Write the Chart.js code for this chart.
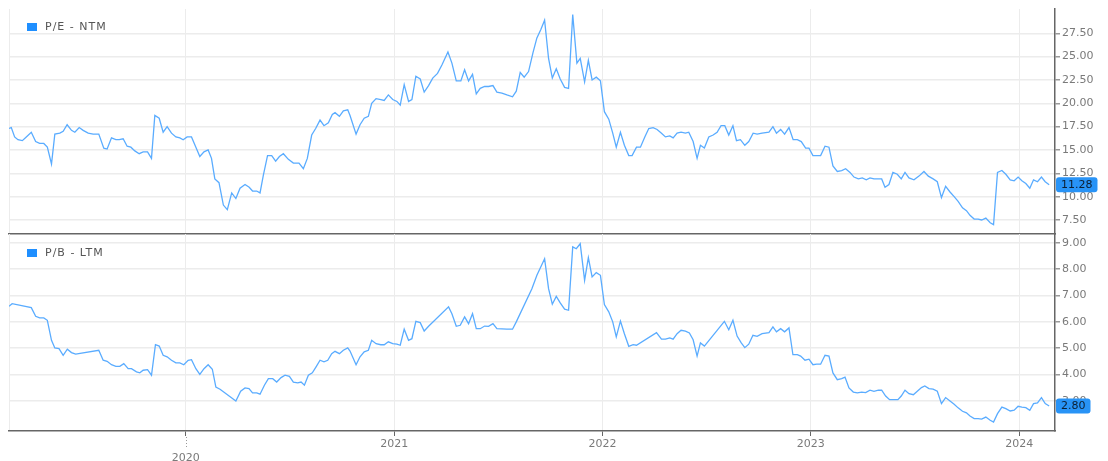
<!DOCTYPE html>
<html>
<head>
<meta charset="utf-8">
<script src="https://cdn.jsdelivr.net/npm/chart.js@4.4.1/dist/chart.umd.min.js"></script>
<style>
  html, body { margin: 0; padding: 0; background: #fff; }
  #wrap { position: relative; width: 1108px; height: 461px; overflow: hidden; }
  #wrap canvas { position: absolute; left: 0; }
  .legend { position: absolute; left: 27px; font: 11px 'DejaVu Sans', sans-serif; color: #555; letter-spacing: 1px; display: flex; align-items: center; line-height: 13px; }
  .legend i { display: inline-block; width: 10px; height: 8px; background: #1f8fff; margin-right: 8px; }
</style>
</head>
<body>
<div id="wrap">
  <canvas id="pe" width="1108" height="235" style="top:0;width:1108px;height:235px"></canvas>
  <canvas id="pb" width="1108" height="227" style="top:234px;width:1108px;height:227px"></canvas>
  <div class="legend" style="top:20px"><i></i>P/E - NTM</div>
  <div class="legend" style="top:246px"><i></i>P/B - LTM</div>
</div>
<script>
// dates as fractional years
const peDates = [
  2019.151, 2019.162, 2019.178, 2019.194, 2019.215, 2019.234, 2019.258, 2019.279, 2019.298, 2019.318,
  2019.335, 2019.355, 2019.371, 2019.395, 2019.411, 2019.430, 2019.451, 2019.467, 2019.488, 2019.507,
  2019.531, 2019.555, 2019.582, 2019.606, 2019.622, 2019.643, 2019.664, 2019.680, 2019.699, 2019.718,
  2019.736, 2019.755, 2019.776, 2019.795, 2019.816, 2019.835, 2019.851, 2019.872, 2019.891, 2019.910,
  2019.931, 2019.952, 2019.971, 2019.987, 2020.006, 2020.027, 2020.048, 2020.067, 2020.087, 2020.107,
  2020.123, 2020.139, 2020.159, 2020.180, 2020.199, 2020.220, 2020.240, 2020.260, 2020.284, 2020.304,
  2020.320, 2020.340, 2020.356, 2020.372, 2020.392, 2020.412, 2020.431, 2020.449, 2020.468, 2020.492,
  2020.516, 2020.543, 2020.564, 2020.583, 2020.604, 2020.623, 2020.644, 2020.663, 2020.684, 2020.703,
  2020.716, 2020.737, 2020.756, 2020.777,
  2020.788, 2020.817, 2020.836, 2020.856, 2020.876, 2020.892, 2020.913, 2020.936, 2020.952, 2020.972,
  2020.993, 2021.013, 2021.029, 2021.048, 2021.069, 2021.085, 2021.104, 2021.125, 2021.144, 2021.165,
  2021.185, 2021.208, 2021.229, 2021.258, 2021.277, 2021.298, 2021.320, 2021.338, 2021.357, 2021.376,
  2021.394, 2021.413, 2021.434, 2021.453, 2021.474, 2021.493, 2021.517, 2021.541, 2021.568, 2021.586,
  2021.605, 2021.624, 2021.645, 2021.666, 2021.685, 2021.704, 2021.722, 2021.741, 2021.759, 2021.778,
  2021.797, 2021.818, 2021.837, 2021.857, 2021.877, 2021.893, 2021.914, 2021.932, 2021.950, 2021.970,
  2021.990, 2022.009, 2022.030, 2022.049, 2022.066, 2022.086, 2022.105, 2022.126, 2022.142, 2022.163,
  2022.182, 2022.203, 2022.222, 2022.243, 2022.262, 2022.283, 2022.302, 2022.323, 2022.339, 2022.358,
  2022.377, 2022.398, 2022.414, 2022.435, 2022.454,
  2022.470, 2022.489, 2022.510, 2022.531, 2022.550, 2022.569, 2022.587, 2022.606, 2022.626, 2022.643,
  2022.662, 2022.683, 2022.702, 2022.723, 2022.742, 2022.766, 2022.799, 2022.818, 2022.835, 2022.855,
  2022.874, 2022.895, 2022.915, 2022.935, 2022.954, 2022.975, 2022.991, 2023.010, 2023.028, 2023.047,
  2023.068, 2023.087, 2023.106, 2023.127, 2023.148, 2023.167, 2023.188, 2023.207, 2023.228, 2023.247,
  2023.266, 2023.284, 2023.303, 2023.324, 2023.340, 2023.356, 2023.375, 2023.394, 2023.415, 2023.434,
  2023.452, 2023.471, 2023.495, 2023.519, 2023.543, 2023.564, 2023.587, 2023.607, 2023.627, 2023.647,
  2023.668, 2023.688, 2023.707, 2023.728, 2023.747, 2023.764, 2023.784, 2023.803, 2023.820, 2023.840,
  2023.861, 2023.877, 2023.896, 2023.917, 2023.936, 2023.957, 2023.976, 2023.995, 2024.013, 2024.032,
  2024.051, 2024.069, 2024.088, 2024.107, 2024.125, 2024.144
];
const peValues = [
  17.3, 17.4, 16.4, 16.1, 16.0, 16.4, 16.9, 15.9, 15.7, 15.7,
  15.3, 13.5, 16.7, 16.8, 17.0, 17.7, 17.1, 16.9, 17.4, 17.1,
  16.8, 16.7, 16.7, 15.2, 15.1, 16.3, 16.1, 16.1, 16.2, 15.4,
  15.3, 14.9, 14.6, 14.8, 14.8, 14.1, 18.7, 18.4, 16.9, 17.5,
  16.8, 16.4, 16.3, 16.1, 16.4, 16.4, 15.3, 14.3, 14.8, 15.0,
  14.1, 11.9, 11.5, 9.1, 8.6, 10.4, 9.8, 10.9, 11.3, 11.0,
  10.6, 10.6, 10.4, 12.3, 14.4, 14.4, 13.8, 14.3, 14.6, 14.0,
  13.6, 13.6, 13.0, 14.1, 16.6, 17.3, 18.2, 17.6, 17.9, 18.8,
  19.0, 18.6, 19.2, 19.3,
  18.7, 16.7, 17.7, 18.4, 18.6, 20.0, 20.5, 20.4, 20.3, 20.9,
  20.4, 20.2, 19.8, 22.0, 20.2, 20.4, 22.9, 22.6, 21.2, 21.9,
  22.7, 23.2, 24.1, 25.5, 24.3, 22.4, 22.4, 23.6, 22.4, 23.1,
  21.0, 21.6, 21.8, 21.8, 21.9, 21.2, 21.1, 20.9, 20.7, 21.3,
  23.3, 22.8, 23.4, 25.4, 27.0, 27.9, 28.9, 24.8, 22.7, 23.7,
  22.6, 21.7, 21.6, 29.5, 24.3, 24.8, 22.3, 24.6, 22.5, 22.8,
  22.4, 19.1, 18.3, 16.8, 15.3, 16.9, 15.5, 14.4, 14.4, 15.3,
  15.3, 16.4, 17.3, 17.4, 17.2, 16.8, 16.4, 16.5, 16.3, 16.8,
  16.9, 16.8, 16.9, 15.9, 14.1,
  15.5, 15.2, 16.4, 16.6, 16.9, 17.6, 17.6, 16.6, 17.6, 16.0,
  16.1, 15.5, 15.9, 16.8, 16.7, 16.8, 16.9, 17.5, 16.8, 17.2,
  16.7, 17.4, 16.1, 16.1, 15.9, 15.2, 15.2, 14.4, 14.4, 14.4,
  15.4, 15.3, 13.3, 12.7, 12.8, 13.0, 12.6, 12.1, 11.9, 12.0,
  11.8, 12.0, 11.9, 11.9, 11.9, 11.0, 11.3, 12.6, 12.4, 11.9,
  12.6, 12.0, 11.8, 12.2, 12.7, 12.2, 11.9, 11.6, 9.9, 11.1,
  10.5, 10.0, 9.5, 8.8, 8.5, 8.0, 7.6, 7.6, 7.5, 7.7,
  7.2, 7.0, 12.6, 12.8, 12.4, 11.8, 11.7, 12.1, 11.7, 11.4,
  10.9, 11.8, 11.6, 12.1, 11.6, 11.28
];

const pbDates = [
  2019.151, 2019.166, 2019.258, 2019.279, 2019.298, 2019.318, 2019.335, 2019.355, 2019.371, 2019.391,
  2019.411, 2019.431, 2019.451, 2019.471, 2019.582, 2019.603, 2019.622, 2019.643, 2019.664, 2019.683,
  2019.702, 2019.723, 2019.739, 2019.763, 2019.779, 2019.795, 2019.816, 2019.835, 2019.854, 2019.872,
  2019.891, 2019.910, 2019.931, 2019.952, 2019.971, 2019.990, 2020.011, 2020.027, 2020.048, 2020.067,
  2020.087, 2020.107, 2020.127, 2020.144, 2020.164, 2020.240, 2020.263, 2020.284, 2020.303, 2020.320,
  2020.340, 2020.356, 2020.377, 2020.396, 2020.417, 2020.436, 2020.457, 2020.476, 2020.497, 2020.516,
  2020.537, 2020.553, 2020.569, 2020.588, 2020.607, 2020.625, 2020.644, 2020.663, 2020.681, 2020.700,
  2020.716, 2020.737, 2020.756, 2020.777,
  2020.788, 2020.817, 2020.836, 2020.856, 2020.876, 2020.892, 2020.913, 2020.936, 2020.952, 2020.972,
  2020.993, 2021.013, 2021.029, 2021.048, 2021.069, 2021.085, 2021.104, 2021.125, 2021.144, 2021.165,
  2021.261, 2021.277, 2021.298, 2021.317, 2021.338, 2021.357, 2021.376, 2021.394, 2021.413, 2021.434,
  2021.453, 2021.474, 2021.493, 2021.517, 2021.541, 2021.568, 2021.586, 2021.661, 2021.685, 2021.722,
  2021.741, 2021.759, 2021.778, 2021.797, 2021.818, 2021.837, 2021.857, 2021.874, 2021.893, 2021.914,
  2021.932, 2021.950, 2021.970, 2021.990, 2022.009, 2022.030, 2022.049, 2022.066, 2022.086, 2022.105,
  2022.126, 2022.147, 2022.163, 2022.259, 2022.283, 2022.302, 2022.323, 2022.339, 2022.358, 2022.377,
  2022.398, 2022.417, 2022.435, 2022.454,
  2022.470, 2022.489, 2022.585, 2022.606, 2022.626, 2022.646, 2022.666, 2022.683, 2022.702, 2022.722,
  2022.742, 2022.766, 2022.799, 2022.818, 2022.835, 2022.855, 2022.874, 2022.895, 2022.914, 2022.935,
  2022.951, 2022.972, 2022.991, 2023.010, 2023.028, 2023.047, 2023.068, 2023.087, 2023.106, 2023.127,
  2023.148, 2023.164, 2023.183, 2023.204, 2023.223, 2023.244, 2023.263, 2023.284, 2023.303, 2023.324,
  2023.340, 2023.359, 2023.378, 2023.399, 2023.418, 2023.434, 2023.452, 2023.471, 2023.492, 2023.511,
  2023.531, 2023.547, 2023.567, 2023.587, 2023.607, 2023.627, 2023.647, 2023.668, 2023.688, 2023.707,
  2023.728, 2023.747, 2023.764, 2023.784, 2023.803, 2023.820, 2023.840, 2023.861, 2023.877, 2023.896,
  2023.917, 2023.936, 2023.957, 2023.976, 2023.995, 2024.013, 2024.032, 2024.051, 2024.069, 2024.088,
  2024.107, 2024.125, 2024.144
];
const pbValues = [
  6.59, 6.69, 6.54, 6.21, 6.15, 6.15, 6.06, 5.30, 5.01, 4.98,
  4.73, 4.96, 4.83, 4.77, 4.92, 4.54, 4.50, 4.37, 4.31, 4.31,
  4.41, 4.22, 4.22, 4.10, 4.06, 4.16, 4.18, 3.97, 5.13, 5.08,
  4.73, 4.67, 4.54, 4.44, 4.44, 4.37, 4.54, 4.56, 4.22, 4.00,
  4.22, 4.37, 4.20, 3.52, 3.44, 2.99, 3.36, 3.49, 3.46, 3.30,
  3.30, 3.25, 3.59, 3.84, 3.84, 3.71, 3.88, 3.97, 3.93, 3.71,
  3.68, 3.71, 3.59, 3.97, 4.06, 4.29, 4.54, 4.48, 4.54, 4.79,
  4.88, 4.79, 4.92, 5.01,
  4.89, 4.37, 4.67, 4.86, 4.92, 5.30, 5.17, 5.13, 5.13, 5.24,
  5.17, 5.15, 5.11, 5.72, 5.30, 5.36, 6.02, 5.97, 5.65, 5.83,
  6.57, 6.31, 5.83, 5.87, 6.19, 5.93, 6.31, 5.74, 5.74, 5.84,
  5.83, 5.93, 5.74, 5.73, 5.72, 5.72, 6.00, 7.26, 7.77, 8.40,
  7.26, 6.67, 6.97, 6.72, 6.48, 6.44, 8.85, 8.78, 8.97, 7.58,
  8.44, 7.71, 7.87, 7.77, 6.66, 6.38, 6.00, 5.43, 6.03, 5.55,
  5.07, 5.13, 5.11, 5.59, 5.34, 5.34, 5.39, 5.34, 5.55, 5.68,
  5.65, 5.58, 5.32, 4.70,
  5.20, 5.08, 6.02, 5.70, 6.06, 5.46, 5.20, 5.02, 5.15, 5.49,
  5.45, 5.55, 5.59, 5.81, 5.62, 5.74, 5.62, 5.77, 4.75, 4.75,
  4.70, 4.54, 4.58, 4.37, 4.39, 4.39, 4.73, 4.70, 4.06, 3.80,
  3.84, 3.90, 3.49, 3.33, 3.30, 3.33, 3.31, 3.40, 3.36, 3.40,
  3.40, 3.18, 3.04, 3.04, 3.04, 3.18, 3.40, 3.27, 3.23, 3.36,
  3.50, 3.56, 3.46, 3.44, 3.36, 2.89, 3.12, 2.99, 2.87, 2.73,
  2.60, 2.54, 2.42, 2.32, 2.32, 2.30, 2.38, 2.26, 2.19, 2.51,
  2.76, 2.70, 2.61, 2.64, 2.79, 2.76, 2.74, 2.64, 2.89, 2.92,
  3.12, 2.89, 2.80
];

const yearTicks = [2020, 2021, 2022, 2023, 2024];
const peTicks = [7.5, 10, 12.5, 15, 17.5, 20, 22.5, 25, 27.5];
const pbTicks = [3, 4, 5, 6, 7, 8, 9];

const X_MIN = 2019.151, X_MAX = 2024.172;
const FONT = "'DejaVu Sans', sans-serif";
const LINE_COLOR = '#5aacff';
const GRID = '#ececec';
const AXIS = '#666';
const TICK_TEXT = '#7a7a7a';

Chart.defaults.font.family = FONT;
Chart.defaults.font.size = 11;

const lastValueTag = {
  id: 'lastValueTag',
  afterDraw(chart) {
    const pts = chart.data.datasets[0].data;
    const last = pts[pts.length - 1];
    const y = chart.scales.y.getPixelForValue(last.y);
    const ctx = chart.ctx;
    const text = last.y.toFixed(2);
    ctx.save();
    ctx.font = '11px ' + FONT;
    const w = ctx.measureText(text).width + 10;
    const x = chart.chartArea.right + 1;
    ctx.fillStyle = '#2893f6';
    ctx.beginPath();
    ctx.roundRect(x, y - 7.5, w, 15, 3);
    ctx.fill();
    ctx.fillStyle = '#0c1f33';
    ctx.textBaseline = 'middle';
    ctx.textAlign = 'center';
    ctx.fillText(text, x + w / 2, y + 0.5);
    ctx.restore();
  }
};

// dotted extension under the staggered 2020 label
const dottedTick = {
  id: 'dottedTick',
  afterDraw(chart) {
    const xs = chart.scales.x;
    const x = Math.round(xs.getPixelForValue(2020)) + 0.5;
    const ctx = chart.ctx;
    ctx.save();
    ctx.strokeStyle = '#999';
    ctx.lineWidth = 1;
    ctx.setLineDash([1, 2]);
    ctx.beginPath();
    ctx.moveTo(x, chart.chartArea.bottom + 6);
    ctx.lineTo(x, chart.chartArea.bottom + 17);
    ctx.stroke();
    ctx.restore();
  }
};

function makeChart(id, dates, values, yMin, yMax, yTicks, showX) {
  return new Chart(document.getElementById(id), {
    type: 'line',
    data: {
      datasets: [{
        data: dates.map((d, i) => ({ x: d, y: values[i] })),
        borderColor: LINE_COLOR,
        borderWidth: 1.3,
        pointRadius: 0,
        tension: 0,
        fill: false
      }]
    },
    options: {
      responsive: false,
      animation: false,
      layout: { padding: { top: showX ? 0 : 9, left: 9, right: 0, bottom: 0 } },
      plugins: { legend: { display: false }, tooltip: { enabled: false } },
      scales: {
        x: {
          type: 'linear',
          min: X_MIN,
          max: X_MAX,
          afterBuildTicks: s => { s.ticks = [X_MIN, ...yearTicks].map(v => ({ value: v })); },
          afterFit: s => { s.height = showX ? 30 : 1; s.paddingLeft = 0; s.paddingRight = 0; },
          grid: {
            color: GRID,
            lineWidth: 1,
            drawTicks: showX,
            tickLength: 5,
            tickColor: c => (c.tick && Number.isInteger(c.tick.value)) ? AXIS : 'rgba(0,0,0,0)'
          },
          border: { display: true, color: AXIS, width: 1.5 },
          ticks: {
            display: showX,
            color: TICK_TEXT,
            padding: 2,
            maxRotation: 0,
            autoSkip: false,
            callback: v => Number.isInteger(v) ? (v === 2020 ? ['', String(v)] : String(v)) : ''
          }
        },
        y: {
          position: 'right',
          min: yMin,
          max: yMax,
          afterBuildTicks: s => { s.ticks = yTicks.map(v => ({ value: v })); },
          afterFit: s => { s.width = 53; s.paddingTop = 0; s.paddingBottom = 0; },
          grid: { color: GRID, lineWidth: 1.5, tickLength: 5, tickColor: '#999' },
          border: { display: true, color: AXIS, width: 1.5 },
          ticks: { color: TICK_TEXT, padding: 2, callback: v => Number(v).toFixed(2) }
        }
      }
    },
    plugins: showX ? [lastValueTag, dottedTick] : [lastValueTag]
  });
}

makeChart('pe', peDates, peValues, 6, 30.1, peTicks, false);
makeChart('pb', pbDates, pbValues, 1.85, 9.34, pbTicks, true);
</script>
</body>
</html>
